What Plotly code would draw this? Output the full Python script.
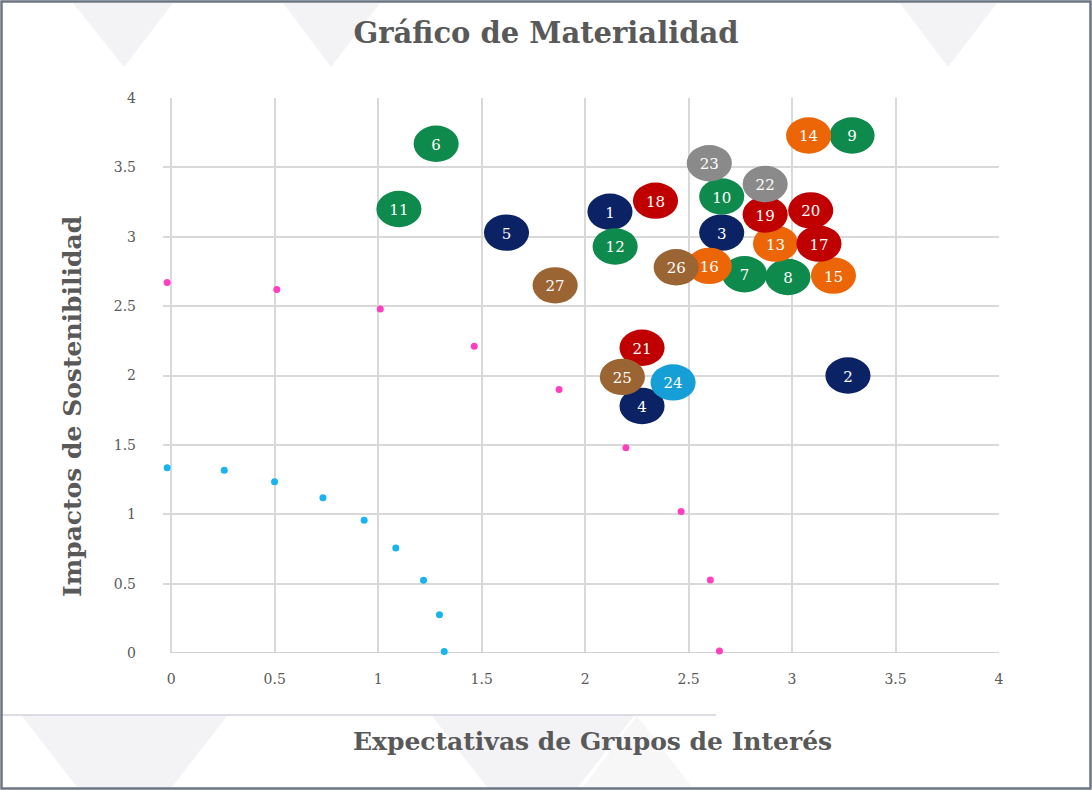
import plotly.graph_objects as go

# ---- Data ----
labels = ["1", "2", "3", "4", "5", "6", "7", "8", "9", "10", "11", "12", "13", "14",
          "15", "16", "17", "18", "19", "20", "21", "22", "23", "24", "25", "26", "27"]
exp_x = [2.12, 3.27, 2.66, 2.275, 1.62, 1.28, 2.77, 2.98, 3.29, 2.66, 1.10, 2.145, 2.92, 3.08,
         3.20, 2.60, 3.13, 2.34, 2.87, 3.09, 2.275, 2.87, 2.60, 2.425, 2.18, 2.44, 1.855]
imp_y = [3.18, 2.00, 3.03, 1.78, 3.03, 3.67, 2.73, 2.71, 3.73, 3.29, 3.20, 2.93, 2.95, 3.73,
         2.72, 2.79, 2.95, 3.26, 3.16, 3.19, 2.20, 3.38, 3.53, 1.95, 1.99, 2.78, 2.65]
groups = ["navy", "navy", "navy", "navy", "navy",
          "green", "green", "green", "green", "green", "green", "green",
          "orange", "orange", "orange", "orange",
          "red", "red", "red", "red", "red",
          "gray", "gray", "lightblue", "brown", "brown", "brown"]
group_colors = {"navy": "#0b2265", "green": "#0e8a4c", "orange": "#ec6608", "red": "#c00000",
                "gray": "#8a8a8a", "lightblue": "#159fd6", "brown": "#9b6433"}

pink_x = [-0.02, 0.51, 1.01, 1.464, 1.874, 2.197, 2.464, 2.605, 2.649]
pink_y = [2.67, 2.62, 2.48, 2.21, 1.90, 1.48, 1.02, 0.526, 0.014]
cyan_x = [-0.02, 0.256, 0.499, 0.733, 0.932, 1.085, 1.219, 1.296, 1.319]
cyan_y = [1.335, 1.318, 1.234, 1.119, 0.956, 0.756, 0.524, 0.276, 0.01]

axis_ticks = [0, 0.5, 1, 1.5, 2, 2.5, 3, 3.5, 4]
tick_text = ["0", "0.5", "1", "1.5", "2", "2.5", "3", "3.5", "4"]
x_min = -0.04  # small pad so the points just left of 0 stay visible

# ---- Layout geometry ----
W, H = 1092, 790
UNIT_X = 207.0
L = round(171 + x_min * UNIT_X)
R = 93
T, B = 98, 137
PW, PH = W - L - R, H - T - B


def px2x(p):
    return (p - L) / PW


def py2y(p):
    return (H - B - p) / PH


fig = go.Figure()

fig.add_trace(go.Scatter(x=pink_x, y=pink_y, mode="markers", cliponaxis=False,
                         marker=dict(color="#ff3fbf", size=7), showlegend=False,
                         hoverinfo="skip"))
fig.add_trace(go.Scatter(x=cyan_x, y=cyan_y, mode="markers", cliponaxis=False,
                         marker=dict(color="#19b4f0", size=7), showlegend=False,
                         hoverinfo="skip"))

shapes = []
# decorative background (watermark triangles, bottom rule, frame)
tri_fill = "#f3f3f5"
for (a, b, apex) in [(73, 173, 124), (283, 380, 331), (900, 997, 948)]:
    shapes.append(dict(type="path", xref="paper", yref="paper", layer="below",
                       path=f"M {px2x(a)} {py2y(3)} L {px2x(b)} {py2y(3)} L {px2x(apex)} {py2y(67)} Z",
                       fillcolor=tri_fill, line=dict(width=0)))
for (a, b, c, d) in [(22, 227, 172, 77), (432, 634, 578, 487)]:
    shapes.append(dict(type="path", xref="paper", yref="paper", layer="below",
                       path=f"M {px2x(a)} {py2y(716)} L {px2x(b)} {py2y(716)} L {px2x(c)} {py2y(787)} L {px2x(d)} {py2y(787)} Z",
                       fillcolor=tri_fill, line=dict(width=0)))
shapes.append(dict(type="path", xref="paper", yref="paper", layer="below",
                   path=f"M {px2x(637)} {py2y(716)} L {px2x(692)} {py2y(787)} L {px2x(583)} {py2y(787)} Z",
                   fillcolor="#f7f7f8", line=dict(width=0)))
shapes.append(dict(type="line", xref="paper", yref="paper", layer="below",
                   x0=px2x(0), x1=px2x(716), y0=py2y(715), y1=py2y(715),
                   line=dict(color="#dcdce4", width=2)))
shapes.append(dict(type="rect", xref="paper", yref="paper", layer="above",
                   x0=px2x(1.5), x1=px2x(1090.5), y0=py2y(1.5), y1=py2y(788.5),
                   line=dict(color="#6e7582", width=2.5), fillcolor="rgba(0,0,0,0)"))

# hide gridline stubs left of x = 0 and draw the axis lines at x=0 / y=0
shapes.append(dict(type="rect", xref="x", yref="paper", layer="between",
                   x0=x_min, x1=-0.004, y0=0, y1=1.002, fillcolor="white", line=dict(width=0)))
shapes.append(dict(type="line", xref="x", yref="paper", layer="between",
                   x0=0, x1=0, y0=0, y1=1, line=dict(color="#c4c4c4", width=1.5)))
shapes.append(dict(type="line", xref="x", yref="y", layer="between",
                   x0=0, x1=4, y0=0, y1=0, line=dict(color="#c4c4c4", width=1.5)))

# bubbles (ellipses in data coordinates)
rx, ry = 0.109, 0.131
for lab, xv, yv, g in zip(labels, exp_x, imp_y, groups):
    shapes.append(dict(type="circle", xref="x", yref="y", layer="between",
                       x0=xv - rx, x1=xv + rx, y0=yv - ry, y1=yv + ry,
                       fillcolor=group_colors[g], line=dict(width=0),
                       label=dict(text=lab, font=dict(color="white", size=15,
                                                      family="DejaVu Serif"))))

font_tick = dict(family="DejaVu Serif", size=14, color="#595959")
fig.update_layout(
    width=W, height=H,
    margin=dict(l=L, r=R, t=T, b=B),
    paper_bgcolor="white", plot_bgcolor="white",
    shapes=shapes,
    showlegend=False,
    title=dict(text="<b>Gráfico de Materialidad</b>", x=0.5, xref="container",
               xanchor="center", y=1 - 33 / H, yref="container", yanchor="middle",
               font=dict(family="DejaVu Serif", size=29, color="#595959")),
    xaxis=dict(range=[x_min, 4], tickvals=axis_ticks, ticktext=tick_text, showgrid=True,
               gridcolor="#d9d9d9", gridwidth=1.5, zeroline=False, showline=False,
               tickfont=font_tick, ticklabelstandoff=16, fixedrange=True),
    yaxis=dict(range=[0, 4], tickvals=axis_ticks, ticktext=tick_text, showgrid=True,
               gridcolor="#d9d9d9", gridwidth=1.5, zeroline=False, showline=False,
               tickfont=font_tick, ticklabelstandoff=26, fixedrange=True),
    annotations=[
        dict(text="<b>Expectativas de Grupos de Interés</b>", xref="paper", yref="paper",
             x=px2x(592), y=py2y(741), xanchor="center", yanchor="middle", showarrow=False,
             font=dict(family="DejaVu Serif", size=25, color="#595959")),
        dict(text="<b>Impactos de Sostenibilidad</b>", xref="paper", yref="paper",
             x=px2x(72), y=py2y(407), xanchor="center", yanchor="middle", showarrow=False,
             textangle=-90,
             font=dict(family="DejaVu Serif", size=25, color="#595959")),
    ],
)

fig.write_html("out.html", config={"displayModeBar": False},
               post_script="document.body.style.margin='0px';")
